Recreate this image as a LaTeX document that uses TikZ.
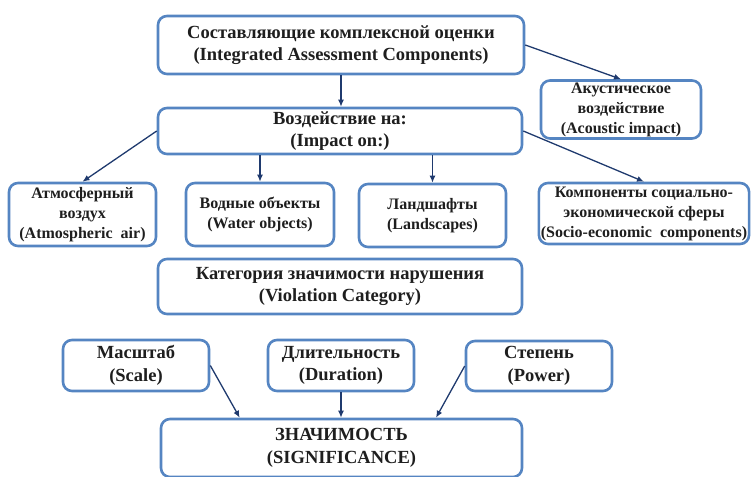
\documentclass[tikz,border=0pt]{standalone}
\usepackage{fontspec}
\setmainfont{Liberation Serif}
\usepackage{xcolor}
\usetikzlibrary{arrows.meta,positioning,calc}
\definecolor{boxblue}{HTML}{5585C2}
\definecolor{arrownavy}{HTML}{1F3A6E}
\definecolor{textgray}{HTML}{1E1E1E}

\begin{document}
\begin{tikzpicture}[
    x=1pt,y=-1pt,
    font=\bfseries\fontsize{18.5}{22.5}\selectfont,
    box/.style={draw=boxblue,line width=2.6pt,rounded corners=9pt,fill=white,text=textgray,align=center,inner sep=2pt},
    smallbox/.style={box,font=\bfseries\fontsize{16}{20}\selectfont},
    arrow/.style={-{Latex[length=7pt,width=6pt]},line width=1.3pt,draw=arrownavy}
  ]
    \useasboundingbox (0,0) rectangle (751,476);

    \node[box,minimum width=366pt,minimum height=58pt] (comp) at (341,45) {Составляющие комплексной оценки\\(Integrated Assessment Components)};
    \node[smallbox,minimum width=160pt,minimum height=53pt] (acou) at (621,109.5) {Акустическое\\воздействие\\(Acoustic impact)};
    \node[box,minimum width=364pt,minimum height=46pt] (impact) at (340,131) {Воздействие на:\\(Impact on:)};

    \node[smallbox,minimum width=147pt,minimum height=63pt] (atmo) at (82.5,214.5) {Атмосферный\\воздух\\(Atmospheric\ \ air)};
    \node[smallbox,minimum width=148pt,minimum height=63pt] (water) at (260,214.5) {Водные объекты\\(Water objects)};
    \node[smallbox,minimum width=147pt,minimum height=63pt] (land) at (432.5,215.5) {Ландшафты\\(Landscapes)};
    \node[smallbox,minimum width=206pt,minimum height=61pt] (socio) at (644,213.5) {Компоненты социально-\\экономической сферы\\(Socio-economic\ \ components)};

    \node[box,minimum width=364pt,minimum height=55pt] (viol) at (340,286.5) {Категория значимости нарушения\\(Violation Category)};

    \node[box,minimum width=146pt,minimum height=51pt] (scale) at (136,365.5) {Масштаб\\(Scale)};
    \node[box,minimum width=146pt,minimum height=51pt] (dur) at (341,365.5) {Длительность\\(Duration)};
    \node[box,minimum width=146pt,minimum height=50pt] (power) at (539,366) {Степень\\(Power)};
    \node[box,minimum width=361pt,minimum height=58pt] (sig) at (341.5,448) {ЗНАЧИМОСТЬ\\(SIGNIFICANCE)};

    % upper part
    \draw[arrow] (comp.south) -- (comp.south |- impact.north);
    \draw[arrow] (comp.east) -- (acou.north);
    \draw[arrow] (impact.west) -- (atmo.north);
    \draw[arrow] (water.north |- impact.south) -- (water.north);
    \draw[arrow] (land.north |- impact.south) -- (land.north);
    \draw[arrow] (impact.east) -- (socio.north);

    % lower part
    \draw[arrow] (scale.east) -- ($(sig.north west)!0.22!(sig.north east)$);
    \draw[arrow] (dur.south) -- (sig.north -| dur.south);
    \draw[arrow] (power.west) -- ($(sig.north west)!0.76!(sig.north east)$);
  \end{tikzpicture}
\end{document}
